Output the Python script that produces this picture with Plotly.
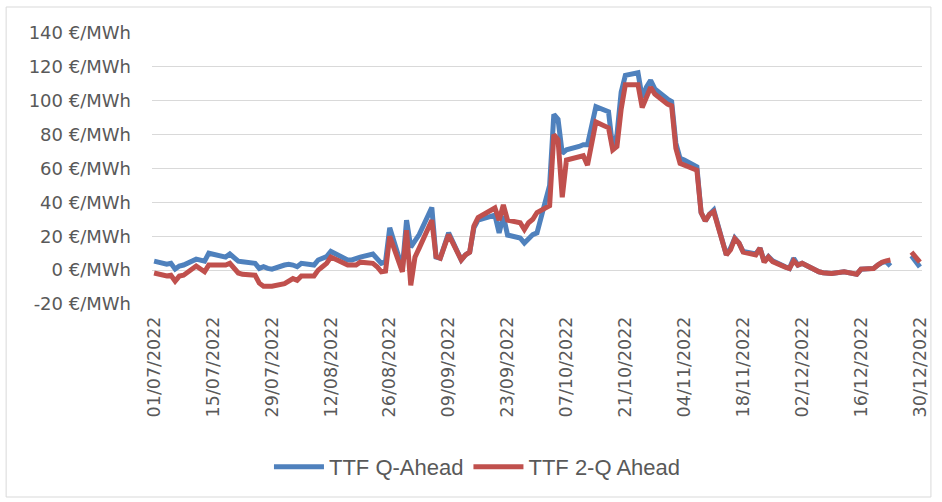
import plotly.graph_objects as go

# Trading days (Dec 26/27 are holidays with no quotes)
dates = [
    "2022-07-01", "2022-07-04", "2022-07-05", "2022-07-06", "2022-07-07", "2022-07-08",
    "2022-07-11", "2022-07-12", "2022-07-13", "2022-07-14", "2022-07-15",
    "2022-07-18", "2022-07-19", "2022-07-20", "2022-07-21", "2022-07-22",
    "2022-07-25", "2022-07-26", "2022-07-27", "2022-07-28", "2022-07-29",
    "2022-08-01", "2022-08-02", "2022-08-03", "2022-08-04", "2022-08-05",
    "2022-08-08", "2022-08-09", "2022-08-10", "2022-08-11", "2022-08-12",
    "2022-08-15", "2022-08-16", "2022-08-17", "2022-08-18", "2022-08-19",
    "2022-08-22", "2022-08-23", "2022-08-24", "2022-08-25", "2022-08-26",
    "2022-08-29", "2022-08-30", "2022-08-31", "2022-09-01", "2022-09-02",
    "2022-09-05", "2022-09-06", "2022-09-07", "2022-09-08", "2022-09-09",
    "2022-09-12", "2022-09-13", "2022-09-14", "2022-09-15", "2022-09-16",
    "2022-09-19", "2022-09-20", "2022-09-21", "2022-09-22", "2022-09-23",
    "2022-09-26", "2022-09-27", "2022-09-28", "2022-09-29", "2022-09-30",
    "2022-10-03", "2022-10-04", "2022-10-05", "2022-10-06", "2022-10-07",
    "2022-10-10", "2022-10-11", "2022-10-12", "2022-10-13", "2022-10-14",
    "2022-10-17", "2022-10-18", "2022-10-19", "2022-10-20", "2022-10-21",
    "2022-10-24", "2022-10-25", "2022-10-26", "2022-10-27", "2022-10-28",
    "2022-10-31", "2022-11-01", "2022-11-02", "2022-11-03", "2022-11-04",
    "2022-11-07", "2022-11-08", "2022-11-09", "2022-11-10", "2022-11-11",
    "2022-11-14", "2022-11-15", "2022-11-16", "2022-11-17", "2022-11-18",
    "2022-11-21", "2022-11-22", "2022-11-23", "2022-11-24", "2022-11-25",
    "2022-11-28", "2022-11-29", "2022-11-30", "2022-12-01", "2022-12-02",
    "2022-12-05", "2022-12-06", "2022-12-07", "2022-12-08", "2022-12-09",
    "2022-12-12", "2022-12-13", "2022-12-14", "2022-12-15", "2022-12-16",
    "2022-12-19", "2022-12-20", "2022-12-21", "2022-12-22", "2022-12-23",
    "2022-12-26", "2022-12-27", "2022-12-28", "2022-12-29", "2022-12-30",
]

# TTF Q-Ahead, €/MWh
q_ahead = [
    5.3, 3.5, 4.0, 0.6, 2.4, 3.0,
    6.5, 6.0, 5.3, 10.0, 9.5,
    7.7, 9.5, 7.7, 5.3, 5.0,
    4.0, 1.0, 2.0, 1.0, 0.6,
    3.0, 3.5, 3.0, 2.0, 4.0,
    3.0, 6.0, 7.0, 8.0, 11.0,
    7.5, 6.0, 6.0, 7.0, 7.7,
    9.5, 7.0, 4.0, 5.0, 25.0,
    1.0, 29.5, 13.6, 17.0, 21.0,
    37.0, 7.7, 7.0, 14.0, 22.0,
    6.0, 9.0, 10.6, 25.0, 29.5,
    32.0, 32.5, 22.0, 32.0, 20.7,
    19.0, 16.0, 19.0, 21.0, 22.0,
    50.0, 92.0, 89.0, 69.0, 71.0,
    73.0, 74.0, 74.0, 85.0, 96.5,
    93.5, 72.0, 80.0, 105.0, 115.0,
    116.5, 102.0, 108.0, 112.0, 107.0,
    101.0, 99.5, 75.0, 66.0, 65.0,
    61.0, 34.0, 29.0, 33.0, 35.5,
    9.0, 13.0, 19.0, 16.0, 11.0,
    9.5, 13.0, 5.0, 8.0, 5.5,
    2.0, 1.0, 7.0, 3.0, 4.0,
    0.0, -1.0, -1.5, -2.0, -2.0,
    -1.0, -1.5, -2.0, -2.5, 0.5,
    1.0, 3.0, 4.5, 5.0, 2.4,
    None, None, 8.5, 5.0, 1.8,
]

# TTF 2-Q Ahead, €/MWh
q2_ahead = [
    -1.7, -3.5, -3.0, -6.5, -3.5, -3.0,
    2.4, 0.5, -1.0, 3.0, 3.0,
    3.0, 4.0, 1.0, -1.7, -2.5,
    -3.0, -7.7, -9.5, -9.5, -9.5,
    -8.0, -6.5, -5.0, -6.0, -3.5,
    -3.5, 0.0, 2.0, 4.0, 7.7,
    4.0, 3.0, 3.0, 3.0, 4.7,
    4.0, 2.0, -1.0, -0.6, 20.0,
    -1.0, 23.6, -9.0, 7.7, 13.0,
    29.5, 8.0, 7.0, 14.0, 21.0,
    6.0, 9.0, 10.6, 26.0, 31.0,
    35.0, 36.7, 29.5, 38.5, 29.5,
    28.0, 24.0, 28.0, 30.0, 34.0,
    38.0, 80.0, 77.0, 43.0, 65.0,
    67.0, 67.5, 62.0, 75.0, 87.5,
    84.0, 71.0, 73.0, 95.0, 109.5,
    109.5, 96.0, 102.0, 108.0, 104.0,
    98.0, 97.0, 72.0, 63.0, 62.0,
    59.0, 34.0, 29.0, 33.0, 34.5,
    9.0, 12.0, 18.5, 16.0, 10.6,
    9.0, 13.0, 4.7, 7.7, 5.0,
    1.8, 1.0, 5.5, 3.0, 4.0,
    0.0, -1.0, -1.5, -2.0, -2.0,
    -1.0, -1.5, -2.0, -2.4, 0.6,
    1.0, 3.0, 4.7, 5.5, 6.0,
    None, None, 10.6, 8.0, 4.7,
]

tick_dates = [
    "2022-07-01", "2022-07-15", "2022-07-29", "2022-08-12", "2022-08-26",
    "2022-09-09", "2022-09-23", "2022-10-07", "2022-10-21", "2022-11-04",
    "2022-11-18", "2022-12-02", "2022-12-16", "2022-12-30",
]
y_ticks = [-20, 0, 20, 40, 60, 80, 100, 120, 140]
y_tick_text = [f"{v} €/MWh" for v in y_ticks]

BLUE = "#4F81BD"
RED = "#C0504D"
GRID = "#D9D9D9"
TEXT = "#595959"

fig = go.Figure()
fig.add_trace(go.Scatter(
    x=dates, y=q_ahead, name="TTF Q-Ahead", mode="lines",
    line=dict(color=BLUE, width=5), connectgaps=False,
))
fig.add_trace(go.Scatter(
    x=dates, y=q2_ahead, name="TTF 2-Q Ahead", mode="lines",
    line=dict(color=RED, width=5), connectgaps=False,
))

W, H = 942, 502
L, R, T, B = 152, 14, 33, 198
pw, ph = W - L - R, H - T - B


def px_to_paper(x, y):
    return (x - L) / pw, (H - B - y) / ph


# light outer frame around the whole chart
x0, y0 = px_to_paper(5, 7)
x1, y1 = px_to_paper(937, 497)
fig.add_shape(type="rect", xref="paper", yref="paper", x0=x0, y0=y1, x1=x1, y1=y0,
              line=dict(color=GRID, width=1), layer="below")

lx, ly = px_to_paper(480, 467)

fig.update_layout(
    width=W, height=H,
    margin=dict(l=L, r=R, t=T, b=B),
    plot_bgcolor="white", paper_bgcolor="white",
    font=dict(family="DejaVu Sans, sans-serif", color=TEXT, size=16),
    showlegend=True,
    legend=dict(
        orientation="h", x=lx, y=ly, xanchor="center", yanchor="middle",
        font=dict(family="Liberation Sans, Arial, sans-serif", size=22, color=TEXT),
        itemwidth=50, bgcolor="rgba(0,0,0,0)",
    ),
    xaxis=dict(
        type="date",
        range=["2022-06-30 12:00", "2022-12-30 12:00"],
        tickvals=tick_dates,
        tickformat="%d/%m/%Y",
        tickangle=-90,
        showgrid=False, zeroline=False, showline=False,
        ticklabelstandoff=8,
        tickfont=dict(size=17.5, color=TEXT),
    ),
    yaxis=dict(
        range=[-20, 140],
        tickvals=y_ticks,
        ticktext=y_tick_text,
        showgrid=True, gridcolor=GRID, gridwidth=1.3,
        zeroline=False, showline=False,
        ticklabelstandoff=20,
        tickfont=dict(size=18, color=TEXT),
    ),
)

fig.write_html("out.html")
